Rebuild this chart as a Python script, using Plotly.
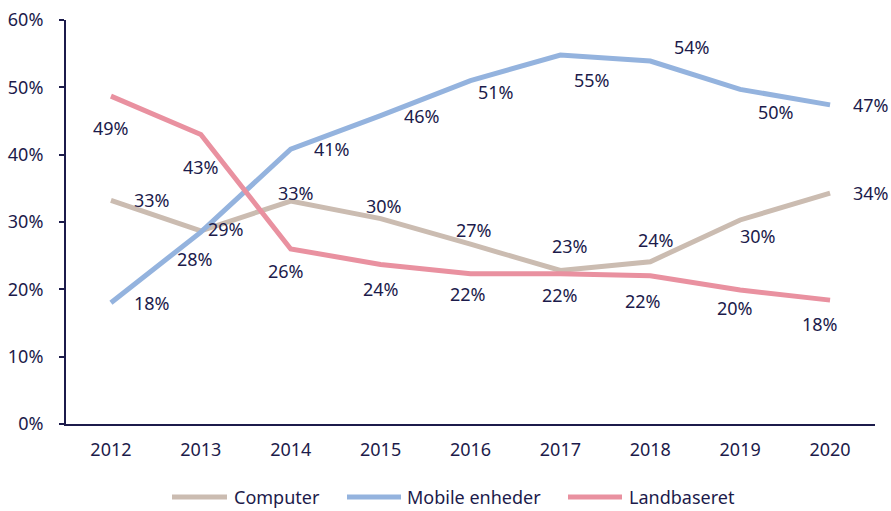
import plotly.graph_objects as go

years = [2012, 2013, 2014, 2015, 2016, 2017, 2018, 2019, 2020]

computer = [0.332, 0.287, 0.331, 0.305, 0.267, 0.228, 0.241, 0.303, 0.343]
mobile = [0.180, 0.285, 0.408, 0.458, 0.510, 0.548, 0.539, 0.497, 0.474]
landbaseret = [0.487, 0.430, 0.260, 0.237, 0.223, 0.223, 0.220, 0.199, 0.184]

series_names = ['Computer', 'Mobile enheder', 'Landbaseret']
series_values = [computer, mobile, landbaseret]
COLORS = ['#CBBCB1', '#94B3DE', '#E991A0']

# label offsets (px) per point, to mimic the hand-placed labels
LABEL_SHIFTS = [
    [(41, 0), (25, 2), (5, 8), (3, 13), (3, 14), (10, 24), (6, 22), (18, -16), (41, 0)],
    [(41, 0), (-6, -27), (41, 0), (41, 0), (25, -11), (32, -25), (42, 14), (36, -23), (41, 0)],
    [(0, -32), (0, -33), (-5, -22), (0, -25), (-3, -20), (0, -21), (-7, -25), (-5, -18), (-10, -24)],
]

TEXT = '#1C1B4B'
FONT = 'Noto Sans'

fig = go.Figure()
annotations = []
for name, vals, color, shifts in zip(series_names, series_values, COLORS, LABEL_SHIFTS):
    fig.add_trace(go.Scatter(x=years, y=vals, mode='lines', name=name,
                             line={'color': color, 'width': 5}, showlegend=False))
    for yr, v, (dx, dy) in zip(years, vals, shifts):
        annotations.append(dict(x=yr, y=v, text=f'{round(v * 100):d}%', showarrow=False,
                                xshift=dx, yshift=dy, font={'size': 18, 'color': TEXT, 'family': FONT}))

# custom legend below the plot (longer line samples than plotly's own legend)
shapes = []
legend_x = [(172, 227, 232), (347, 401, 405), (568, 622, 627)]
for name, color, (x0, x1, tx) in zip(series_names, COLORS, legend_x):
    y = (424 - 497) / 404
    shapes.append(dict(type='line', xref='paper', yref='paper',
                       x0=(x0 - 66) / 809, x1=(x1 - 66) / 809, y0=y, y1=y,
                       line={'color': color, 'width': 5}))
    annotations.append(dict(xref='paper', yref='paper', x=(tx - 66) / 809, y=y, text=name,
                            xanchor='left', yanchor='middle', showarrow=False,
                            font={'size': 18, 'color': TEXT, 'family': FONT}))

fig.update_layout(
    width=891, height=511,
    margin={'l': 66, 'r': 16, 't': 20, 'b': 87},
    plot_bgcolor='white', paper_bgcolor='white',
    font={'family': FONT, 'size': 18, 'color': TEXT},
    annotations=annotations,
    shapes=shapes,
    xaxis={'range': [2011.5, 2020.5], 'dtick': 1, 'tickformat': 'd', 'showgrid': False,
           'showline': True, 'linecolor': TEXT, 'linewidth': 2, 'zeroline': False,
           'ticks': '', 'ticklabelstandoff': 8, 'automargin': False},
    yaxis={'range': [0, 0.6], 'dtick': 0.1, 'tickformat': '.0%', 'showgrid': False,
           'showline': True, 'linecolor': TEXT, 'linewidth': 2, 'zeroline': False,
           'ticks': 'outside', 'ticklen': 5, 'tickwidth': 2, 'tickcolor': TEXT,
           'ticklabelstandoff': 12, 'automargin': False},
)

fig.write_html('out.html', config={'displayModeBar': False},
               post_script="document.body.style.margin='0px';")
